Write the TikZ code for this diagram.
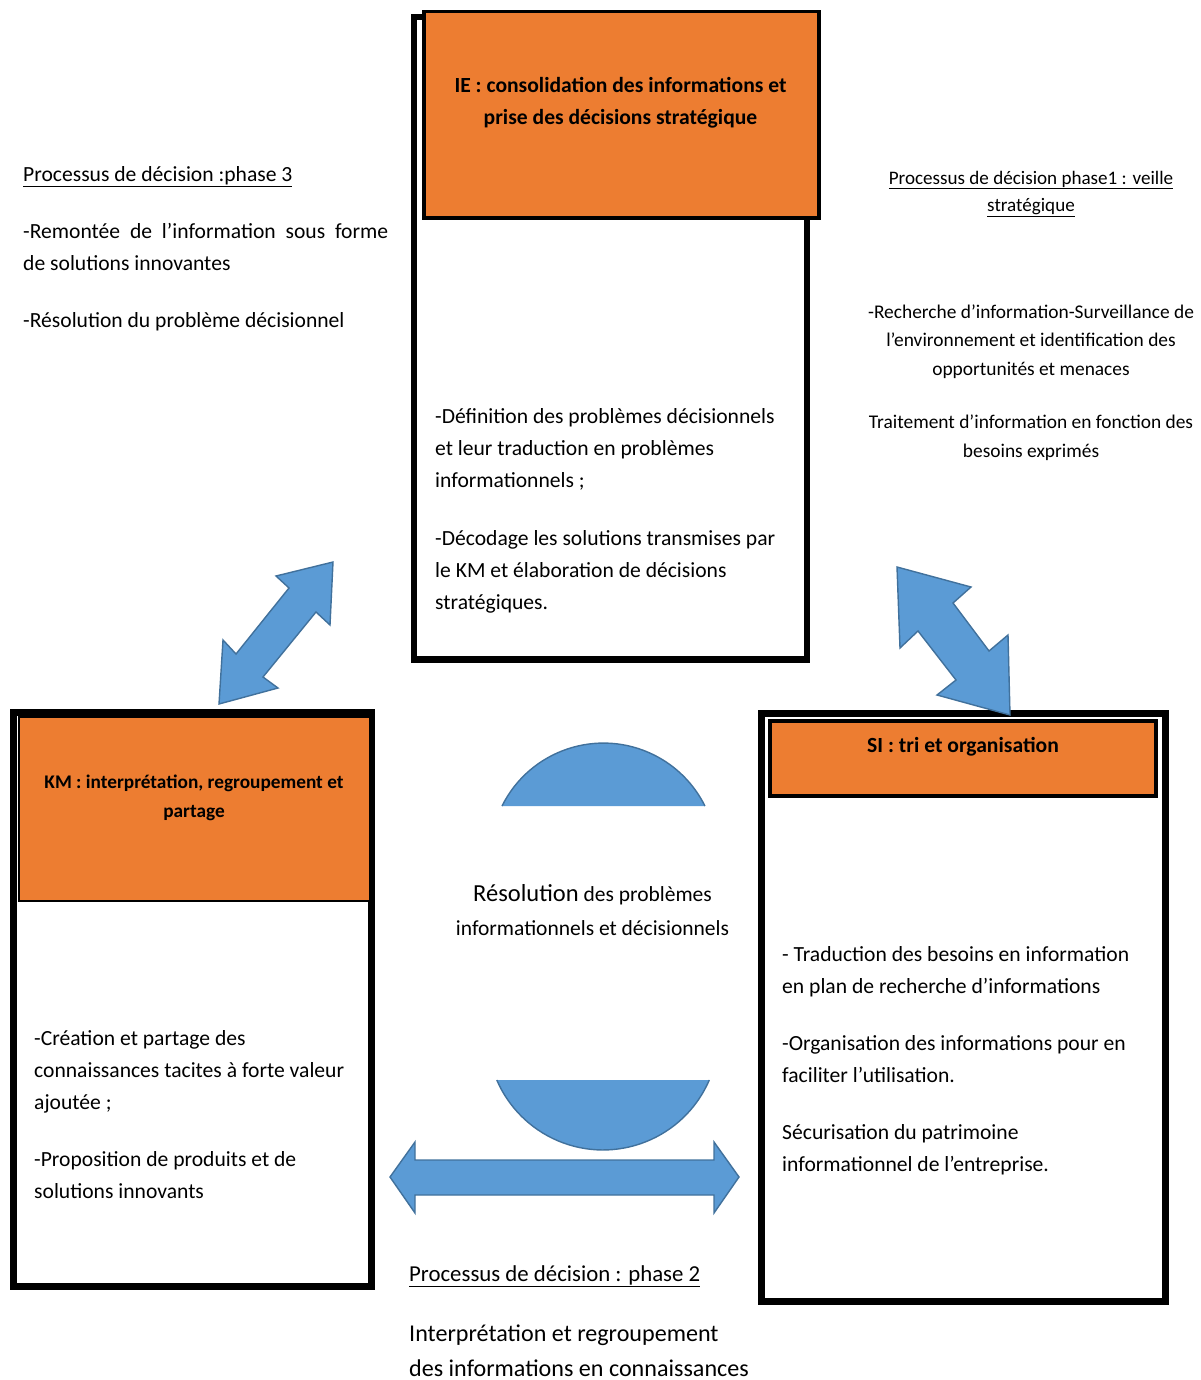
\documentclass[tikz,border=0pt]{standalone}
\usepackage{fontspec}
\setmainfont{Carlito}
\definecolor{boxorange}{HTML}{ED7D31}
\definecolor{arrowblue}{HTML}{5B9BD5}
\definecolor{arrowedge}{HTML}{41719C}
\tikzset{
  frame/.style={draw=black, line width=7pt, fill=white, inner sep=0, outer sep=0},
  header/.style={draw=black, fill=boxorange, inner sep=0, outer sep=0},
  body/.style={inner sep=0, anchor=base west, align=left,
    font=\fontsize{21.6}{32}\selectfont},
  headtext/.style={inner sep=0, anchor=base, align=center},
  bluearrow/.style={fill=arrowblue, draw=arrowedge, line width=1.4pt, line join=miter},
}
\begin{document}
\begin{tikzpicture}[x=1pt, y=-1pt]
\useasboundingbox (0,0) rectangle (1200,1380);

% --- IE block ---
\node[frame, line width=6.5pt, minimum width=393, minimum height=642.5] (ieframe) at (610.5,338.25) {};
\node[header, line width=3.5pt, minimum width=395, minimum height=206.7] (iehead) at (621.5,114.65) {};
\node[headtext, font=\fontsize{21.6}{32}\bfseries\selectfont] (ietitle) at (620.5,125)
  {IE : consolidation des informations et\\prise des décisions stratégique};
\node[body] (iebody) at (435,609.5)
  {-Définition des problèmes décisionnels\\
   et leur traduction en problèmes\\
   informationnels ;\\[26pt]
   -Décodage les solutions transmises par\\
   le KM et élaboration de décisions\\
   stratégiques.};

% --- KM block ---
\node[frame, minimum width=358, minimum height=574] (kmframe) at (192.5,999.5) {};
\node[header, line width=1.5pt, minimum width=351, minimum height=184] (kmhead) at (194.5,809) {};
\node[headtext, font=\fontsize{19.3}{29}\bfseries\selectfont] (kmtitle) at (194,817)
  {KM : interprétation, regroupement et\\partage};
\node[body] (kmbody) at (34,1198)
  {-Création et partage des\\
   connaissances tacites à forte valeur\\
   ajoutée ;\\[25pt]
   -Proposition de produits et de\\
   solutions innovants};

% --- SI block ---
\node[frame, minimum width=403.5, minimum height=588] (siframe) at (963.25,1007.5) {};
\node[header, line width=3.5pt, minimum width=386, minimum height=75] (sihead) at (963,758.5) {};
\node[headtext, font=\fontsize{21.6}{32}\bfseries\selectfont] (sititle) at (963,752.5)
  {SI : tri et organisation};
\node[body] (sibody) at (782,1171)
  {- Traduction des besoins en information\\
   en plan de recherche d’informations\\[25pt]
   -Organisation des informations pour en\\
   faciliter l’utilisation.\\[25pt]
   Sécurisation du patrimoine\\
   informationnel de l’entreprise.};

% --- phase 3 notes ---
\node[body] (phase3) at (23,327)
  {\underline{Processus de décision :phase 3}\\[25pt]
   \makebox[365pt][s]{-Remontée de l’information sous forme}\\
   de solutions innovantes\\[25pt]
   -Résolution du problème décisionnel};

% --- phase 1 notes ---
\node[headtext, font=\fontsize{19.1}{28}\selectfont] (phase1) at (1031,212)
  {\underline{Processus de décision phase1 : veille}\\
   \underline{stratégique}};
\node[headtext, font=\fontsize{19.4}{28.5}\selectfont] (phase1body) at (1031,457)
  {-Recherche d’information-Surveillance de\\
   l’environnement et identification des\\
   opportunités et menaces\\[25pt]
   Traitement d’information en fonction des\\
   besoins exprimés};

% --- centre ---
\fill[arrowblue] (502,806) arc[start angle=-153.6, end angle=-26.4, radius=113.3] -- cycle;
\draw[arrowedge, line width=1.4pt] (502,806) arc[start angle=-153.6, end angle=-26.4, radius=113.3];
\node[headtext, font=\fontsize{21.5}{34}\selectfont] (resol) at (592.5,935)
  {{\fontsize{24.5}{34}\selectfont Résolution} des problèmes\\
   informationnels et décisionnels};
\fill[arrowblue] (709.3,1080) arc[start angle=23.3, end angle=156.7, radius=115.7] -- cycle;
\draw[arrowedge, line width=1.4pt] (709.3,1080) arc[start angle=23.3, end angle=156.7, radius=115.7];

% --- double arrows ---
\draw[bluearrow] (390,1177) -- (415,1142) -- (415,1160) -- (714,1160) -- (714,1142)
  -- (739,1177) -- (714,1213) -- (714,1195) -- (415,1195) -- (415,1213) -- cycle;
\draw[bluearrow] (333,562) -- (330,625) -- (316,612) -- (263,677) -- (278,688)
  -- (219,704) -- (223,640) -- (236,654) -- (289,588) -- (276,576) -- cycle;
\draw[bluearrow] (897,567) -- (971,587) -- (953,603) -- (989,651) -- (1008,635)
  -- (1010,715) -- (937,695) -- (956,680) -- (918,631) -- (900,648) -- cycle;

% --- phase 2 notes ---
\node[body, font=\fontsize{24.1}{35}\selectfont] (phase2) at (409,1376)
  {{\fontsize{22.8}{35}\selectfont\underline{Processus de décision : phase 2}}\\[25pt]
   Interprétation et regroupement\\
   des informations en connaissances};
\end{tikzpicture}
\end{document}
